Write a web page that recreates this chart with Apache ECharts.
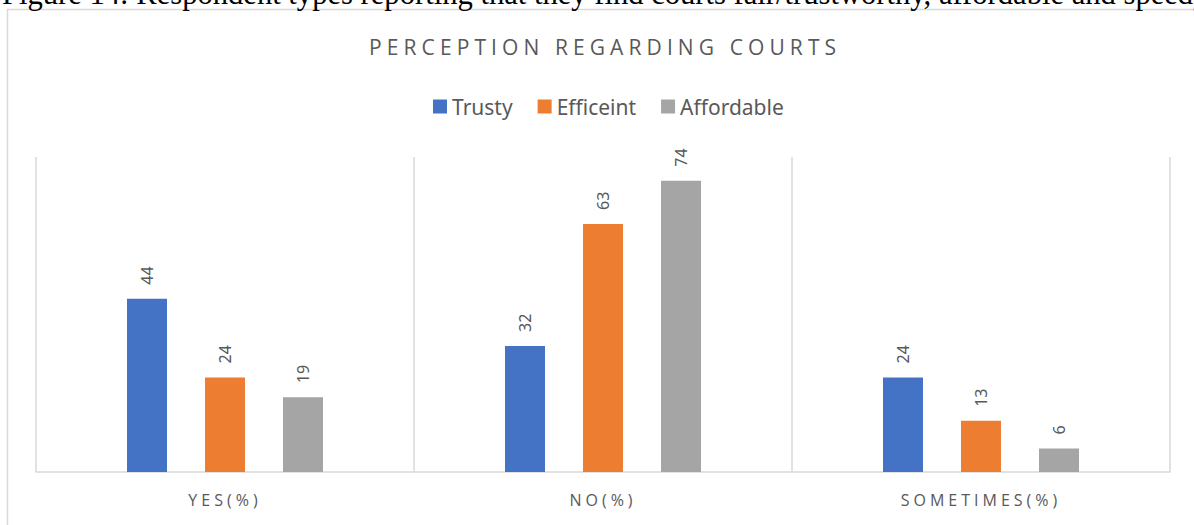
<!DOCTYPE html>
<html>
<head>
<meta charset="utf-8">
<script src="https://cdn.jsdelivr.net/npm/echarts@6/dist/echarts.min.js"></script>
<style>
html, body { margin: 0; padding: 0; background: #fff; }
#chart { width: 1194px; height: 525px; }
/* spaced caps like the original category labels and title */
#chart text[style*="Open Sans"] { letter-spacing: 4px; }
#chart text[style*="Open Sans"][style*="21px"] { letter-spacing: 5.1px; }
</style>
</head>
<body>
<div id="chart"></div>
<script>
var categories = ['YES(%)', 'NO(%)', 'SOMETIMES(%)'];
var seriesNames = ['Trusty', 'Efficeint', 'Affordable'];
var trusty = [44, 32, 24];
var efficient = [24, 63, 13];
var affordable = [19, 74, 6];
var colors = ['#4472C4', '#ED7D31', '#A5A5A5'];

var myChart = echarts.init(document.getElementById('chart'), null, { renderer: 'svg' });

function barSeries(name, data, color) {
	return {
		name: name,
		type: 'bar',
		data: data,
		barWidth: 40,
		barGap: '95%',
		itemStyle: { color: color },
		label: {
			show: true,
			position: 'top',
			rotate: 90,
			align: 'left',
			verticalAlign: 'middle',
			distance: 14,
			color: '#595959',
			fontSize: 16,
			fontFamily: 'Noto Sans'
		}
	};
}

var option = {
	animation: false,
	title: {
		text: 'PERCEPTION REGARDING COURTS',
		left: 369,
		top: 36,
		padding: 0,
		textStyle: {
			color: '#595959',
			fontSize: 21,
			fontWeight: 'normal',
			fontFamily: 'Open Sans'
		}
	},
	legend: {
		data: seriesNames,
		top: 91,
		left: 428,
		itemWidth: 14,
		itemHeight: 14,
		itemGap: 25,
		icon: 'rect',
		textStyle: { color: '#595959', fontSize: 21, fontFamily: 'Noto Sans' }
	},
	graphic: [
		{
			type: 'text',
			x: 2,
			y: -6,
			style: {
				text: 'Figure 14: Respondent types reporting that they find courts fair/trustworthy, affordable and speedy',
				font: '30.6px "Liberation Serif"',
				fill: '#000',
				verticalAlign: 'middle'
			}
		},
		{
			type: 'rect',
			shape: { x: 7.5, y: 9.5, width: 1200, height: 530 },
			style: { fill: '#fff', stroke: '#d9d9d9', lineWidth: 1.5 },
			z: -10
		}
	],
	grid: {
		left: 36,
		right: 24,
		top: 157,
		bottom: 53
	},
	xAxis: {
		type: 'category',
		data: categories,
		axisLine: { lineStyle: { color: '#d9d9d9', width: 1.5 } },
		axisTick: { show: false },
		splitLine: { show: true, lineStyle: { color: '#d9d9d9', width: 1.5 } },
		axisLabel: {
			color: '#595959',
			fontSize: 16,
			fontFamily: 'Open Sans',
			margin: 20
		}
	},
	yAxis: {
		type: 'value',
		min: 0,
		max: 80,
		show: false,
		splitLine: { show: false }
	},
	series: [
		barSeries(seriesNames[0], trusty, colors[0]),
		barSeries(seriesNames[1], efficient, colors[1]),
		barSeries(seriesNames[2], affordable, colors[2])
	]
};

myChart.setOption(option);
window.onresize = myChart.resize;
</script>
</body>
</html>
